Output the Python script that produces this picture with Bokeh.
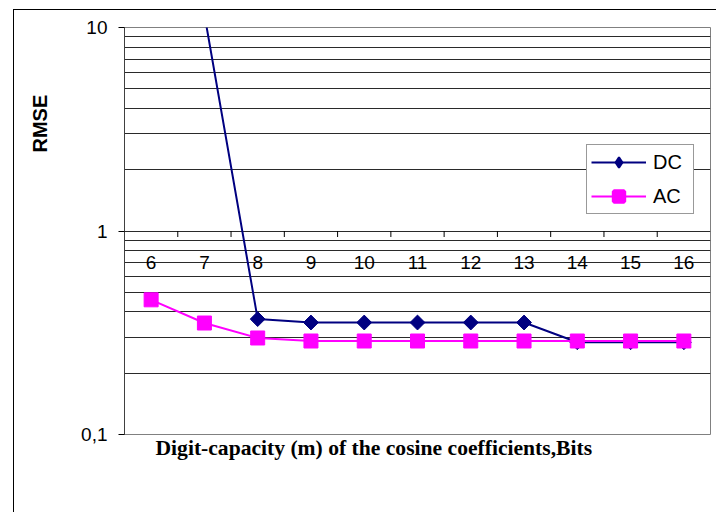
import math
from bokeh.plotting import figure
from bokeh.models import (FixedTicker, Range1d, ColumnDataSource, Legend, LegendItem, Title,
                          LinearAxis)
from bokeh.embed import file_html
from bokeh.resources import INLINE
from bokeh.core.properties import value

# ---- data ----
bits = [6, 7, 8, 9, 10, 11, 12, 13, 14, 15, 16]
bit_labels = [str(b) for b in bits]
dc_bits = [7, 8, 9, 10, 11, 12, 13, 14, 15, 16]
dc_rmse = [11.6, 0.369, 0.355, 0.355, 0.355, 0.355, 0.355, 0.284, 0.284, 0.284]
ac_bits = [6, 7, 8, 9, 10, 11, 12, 13, 14, 15, 16]
ac_rmse = [0.459, 0.353, 0.298, 0.288, 0.288, 0.288, 0.288, 0.288, 0.288, 0.288, 0.288]
y_major = [0.1, 1, 10]
y_major_labels = ["0,1", "1", "10"]
y_minor = [0.2, 0.3, 0.4, 0.5, 0.6, 0.7, 0.8, 0.9, 2, 3, 4, 5, 6, 7, 8, 9]
x_title = "Digit-capacity (m) of the cosine coefficients,Bits"
y_title = "RMSE"

boundaries = [b + 0.5 for b in bits[:-1]]

W, H = 703, 502
p = figure(width=W, height=H,
           x_range=Range1d(bits[0] - 0.5, bits[-1] + 0.5),
           y_range=Range1d(0.1, 10),
           y_axis_type="log", x_axis_location=None,
           output_backend="svg", toolbar_location=None,
           min_border_left=110, min_border_right=7,
           min_border_top=17, min_border_bottom=78,
           margin=(10, 0, 0, 13))
p.styles = {"border-left": "1px solid #000000", "box-shadow": "0px -1px 0px 0px #000000"}
p.background_fill_color = "white"
p.border_fill_color = "white"
p.outline_line_color = "#808080"
p.outline_line_width = 1

# hidden range used only for legend-sample glyphs (kept off the frame)
p.extra_y_ranges = {"legend_only": Range1d(1000, 2000)}

# y axis
ax = p.yaxis[0]
ax.ticker = FixedTicker(ticks=y_major, minor_ticks=y_minor)
ax.major_label_overrides = {t: l for t, l in zip(y_major, y_major_labels)}
ax.major_tick_out = 6
ax.major_tick_in = 0
ax.minor_tick_out = 0
ax.minor_tick_in = 0
ax.major_tick_line_color = "black"
ax.axis_line_color = "#404040"
ax.major_label_standoff = 11
ax.major_label_text_font = "Liberation Sans"
ax.major_label_text_font_size = "19px"
ax.major_label_text_color = "black"

# invisible spacer between the tick labels and the y title
spacer = LinearAxis(ticker=FixedTicker(ticks=[1]), axis_line_color=None,
                    major_tick_line_color=None, minor_tick_line_color=None,
                    major_tick_out=27, major_tick_in=0, minor_tick_out=0, minor_tick_in=0,
                    major_label_standoff=0, major_label_overrides={1: ""},
                    major_label_text_font_size="1px")
p.add_layout(spacer, "left")

p.xgrid.visible = False
yg = p.ygrid[0]
yg.ticker = ax.ticker
yg.grid_line_color = "#2a2a2a"
yg.grid_line_width = 1
yg.minor_grid_line_color = "#2a2a2a"
yg.minor_grid_line_width = 1

# category axis crossing at y = 1
p.ray(x=boundaries, y=[1] * len(boundaries), length=6, length_units="screen",
      angle=-math.pi / 2, line_color="black", line_width=1)
p.text(x=bits, y=[1] * len(bits), text=bit_labels, y_offset=31,
       text_align="center", text_baseline="middle",
       text_font=value("Liberation Sans"), text_font_size="19px", text_color="black")

# series
dc_src = ColumnDataSource(dict(x=dc_bits, y=dc_rmse))
ac_src = ColumnDataSource(dict(x=ac_bits, y=ac_rmse))
dc_line = p.line("x", "y", source=dc_src, line_color="#000080", line_width=2)
dc_pts = p.scatter("x", "y", source=dc_src, marker="square", angle=math.pi / 4,
                   size=10.5, fill_color="#000080", line_color="#000080")
ac_line = p.line("x", "y", source=ac_src, line_color="#FF00FF", line_width=2)
ac_pts = p.scatter("x", "y", source=ac_src, marker="square", size=14,
                   fill_color="#FF00FF", line_color="#FF00FF")

# legend sample glyphs
dc_leg = p.scatter("x", "y", source=dc_src, y_range_name="legend_only",
                   marker="diamond", size=10, fill_color="#000080", line_color="#000080",
                   line_width=2)
ac_leg = p.scatter("x", "y", source=ac_src, y_range_name="legend_only",
                   marker="square", size=10, fill_color="#FF00FF", line_color="#FF00FF",
                   line_width=4)

legend = Legend(items=[LegendItem(label="DC", renderers=[dc_line, dc_leg]),
                       LegendItem(label="AC", renderers=[ac_line, ac_leg])],
                location=(462, 220))
legend.glyph_width = 55
legend.glyph_height = 26
legend.label_height = 26
legend.label_width = 36
legend.spacing = 8
legend.padding = 4
legend.margin = 0
legend.label_standoff = 7
legend.label_text_font = "Liberation Sans"
legend.label_text_font_size = "20px"
legend.label_text_color = "black"
legend.border_line_color = "#333333"
legend.border_line_width = 1
legend.background_fill_color = "white"
legend.background_fill_alpha = 1
p.add_layout(legend, "center")

# axis titles
p.add_layout(Title(text=x_title, align="left", offset=31, vertical_align="middle",
                   standoff=0, text_font="Liberation Serif", text_font_style="bold",
                   text_font_size="21.6px", text_color="black"), "below")
p.add_layout(Title(text=y_title, align="left", offset=282, vertical_align="middle",
                   standoff=0, text_font="Liberation Sans", text_font_style="bold",
                   text_font_size="20px", text_color="black"), "left")

open("out.html", "w").write(file_html(p, INLINE))
